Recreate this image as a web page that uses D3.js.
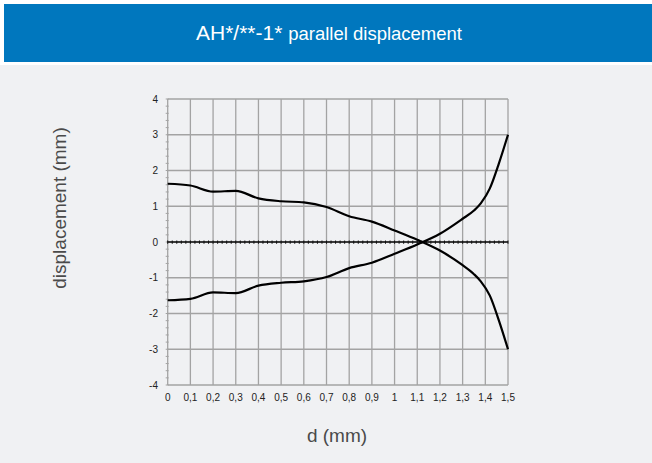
<!DOCTYPE html>
<html>
<head>
<meta charset="utf-8">
<script src="https://cdn.jsdelivr.net/npm/d3@7"></script>
<style>
	body { margin: 0; background: #fff; }
	svg { display: block; font-family: "Liberation Sans", Arial, sans-serif; }
</style>
</head>
<body>
<div id="viz"></div>
<script>
// values
var dValues = [0, 0.1, 0.2, 0.3, 0.4, 0.5, 0.6, 0.7, 0.8, 0.9, 1.0, 1.1, 1.2, 1.3, 1.35, 1.38, 1.42, 1.46, 1.5];
var upperValues = [1.63, 1.58, 1.41, 1.43, 1.22, 1.14, 1.11, 0.98, 0.72, 0.57, 0.32, 0.06, -0.24, -0.65, -0.9, -1.1, -1.5, -2.2, -3.0];
var lowerValues = [-1.63, -1.59, -1.41, -1.43, -1.22, -1.14, -1.1, -0.98, -0.73, -0.58, -0.33, -0.07, 0.23, 0.65, 0.88, 1.08, 1.5, 2.2, 3.0];
var xTicks = [0, 0.1, 0.2, 0.3, 0.4, 0.5, 0.6, 0.7, 0.8, 0.9, 1, 1.1, 1.2, 1.3, 1.4, 1.5];
var yTicks = [-4, -3, -2, -1, 0, 1, 2, 3, 4];

var width = 652, height = 463;

var svg = d3.select("#viz")
	.append("svg")
	.attr("width", width)
	.attr("height", height);

// page background and title banner
svg.append("rect").attr("x", 0).attr("y", 65).attr("width", width).attr("height", height - 65).attr("fill", "#f0f1f3");
svg.append("rect").attr("x", 4).attr("y", 4).attr("width", width - 4).attr("height", 58).attr("fill", "#0077be");

var title = svg.append("text")
	.attr("x", 329)
	.attr("y", 40)
	.attr("text-anchor", "middle")
	.attr("fill", "#fff");
title.append("tspan").attr("font-size", 21).text("AH*/**-1* ");
title.append("tspan").attr("font-size", 18.5).text("parallel displacement");

var x = d3.scaleLinear().domain([0, 1.5]).range([167.7, 508]);
var y = d3.scaleLinear().domain([-4, 4]).range([385, 99]);

var plot = svg.append("g");

// grid
plot.selectAll("line.vgrid")
	.data(xTicks)
	.enter().append("line")
	.attr("class", "vgrid")
	.attr("x1", d => x(d)).attr("x2", d => x(d))
	.attr("y1", y(4)).attr("y2", y(-4))
	.attr("stroke", "#a3a3a3")
	.attr("stroke-width", 1.3);

plot.selectAll("line.hgrid")
	.data(yTicks)
	.enter().append("line")
	.attr("class", "hgrid")
	.attr("x1", x(0)).attr("x2", x(1.5))
	.attr("y1", d => y(d)).attr("y2", d => y(d))
	.attr("stroke", "#a3a3a3")
	.attr("stroke-width", 1.3);

// minor y ticks on the left axis
var minorY = d3.range(-4, 4.001, 0.2);
plot.selectAll("line.minory")
	.data(minorY)
	.enter().append("line")
	.attr("x1", x(0) - 2).attr("x2", x(0) + 1)
	.attr("y1", d => y(d)).attr("y2", d => y(d))
	.attr("stroke", "#a3a3a3")
	.attr("stroke-width", 1);

// zero line with minor ticks
plot.append("line")
	.attr("x1", x(0)).attr("x2", x(1.5))
	.attr("y1", y(0)).attr("y2", y(0))
	.attr("stroke", "#111")
	.attr("stroke-width", 1.3);

var minorX = d3.range(0, 1.5001, 0.02);
plot.selectAll("line.minorx")
	.data(minorX)
	.enter().append("line")
	.attr("x1", d => x(d)).attr("x2", d => x(d))
	.attr("y1", y(0) - 1.5).attr("y2", y(0) + 1.8)
	.attr("stroke", "#111")
	.attr("stroke-width", 1);

// tick labels
var fmt = d => String(d).replace(".", ",");

plot.selectAll("text.xlab")
	.data(xTicks)
	.enter().append("text")
	.attr("x", d => x(d))
	.attr("y", 401)
	.attr("text-anchor", "middle")
	.attr("font-size", 10)
	.attr("fill", "#222")
	.text(fmt);

plot.selectAll("text.ylab")
	.data(yTicks)
	.enter().append("text")
	.attr("x", 158)
	.attr("y", d => y(d) + 3.5)
	.attr("text-anchor", "end")
	.attr("font-size", 10)
	.attr("fill", "#222")
	.text(fmt);

// curves
var line = d3.line()
	.x(d => x(d[0]))
	.y(d => y(d[1]))
	.curve(d3.curveMonotoneX);

[upperValues, lowerValues].forEach(function(series){
	plot.append("path")
		.datum(d3.zip(dValues, series))
		.attr("d", line)
		.attr("fill", "none")
		.attr("stroke", "#000")
		.attr("stroke-width", 2.2);
});

// axis titles
svg.append("text")
	.attr("transform", "translate(66,208) rotate(-90)")
	.attr("text-anchor", "middle")
	.attr("font-size", 19)
	.attr("fill", "#4a4a4a")
	.text("displacement (mm)");

svg.append("text")
	.attr("x", 337)
	.attr("y", 442)
	.attr("text-anchor", "middle")
	.attr("font-size", 19)
	.attr("fill", "#4a4a4a")
	.text("d (mm)");
</script>
</body>
</html>
